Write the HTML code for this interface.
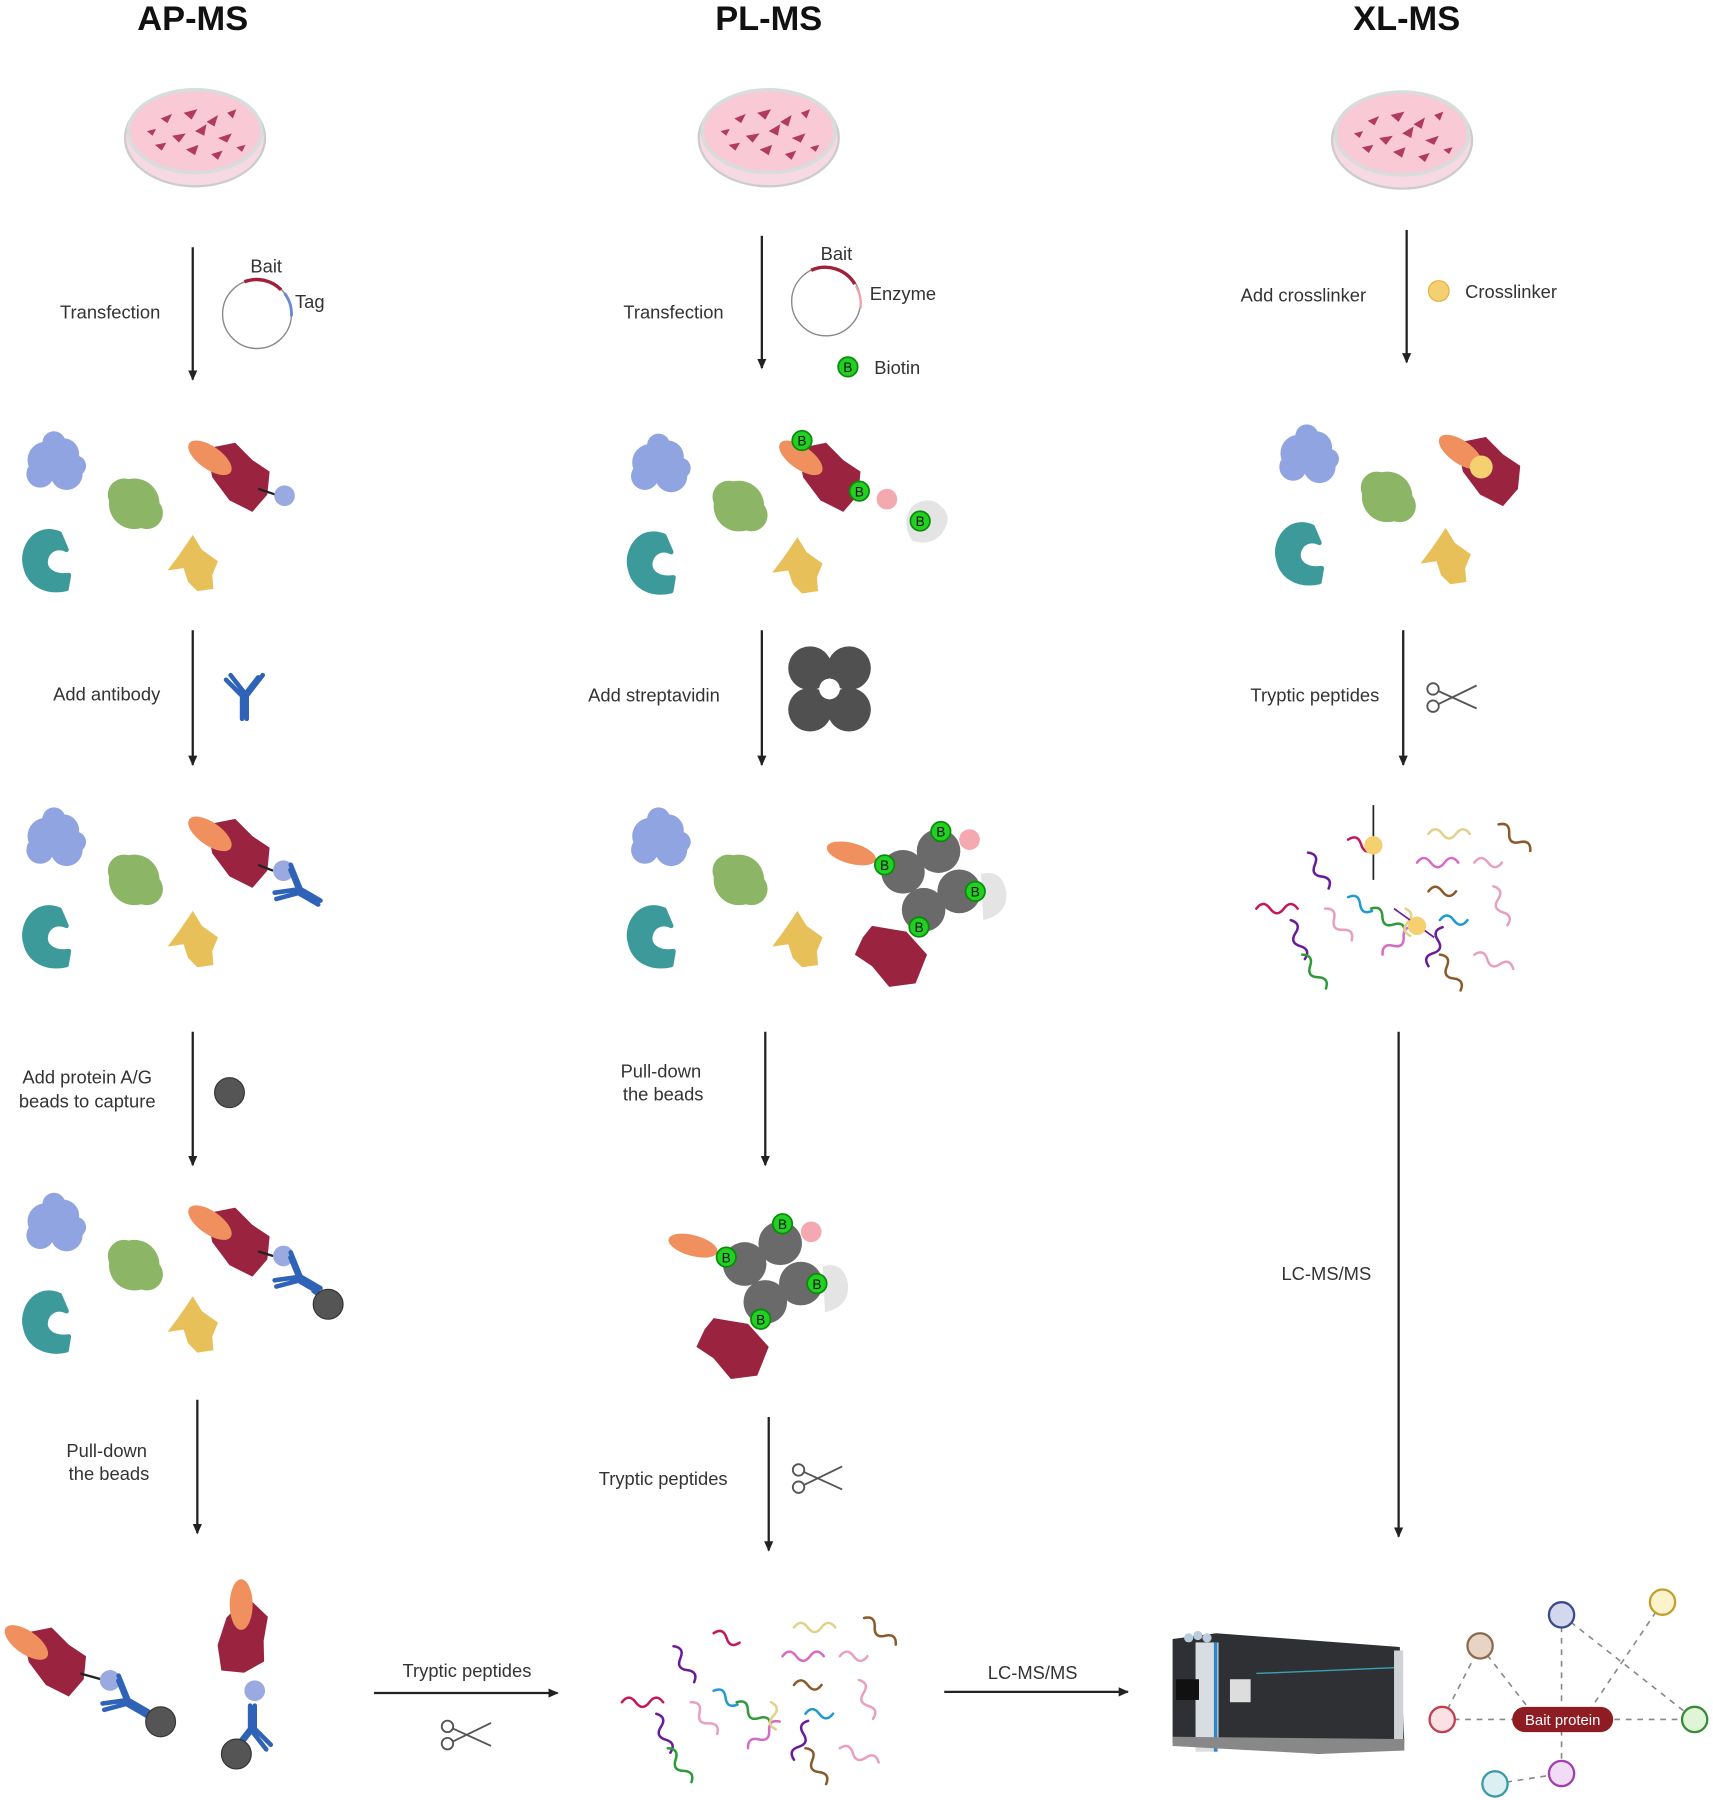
<!DOCTYPE html>
<html><head><meta charset="utf-8"><style>
html,body{margin:0;padding:0;background:#fff;}
svg{display:block;}
text{font-family:"Liberation Sans",sans-serif;fill:#333;}
</style></head><body>
<svg width="1713" height="1800" viewBox="0 0 1493 1565" preserveAspectRatio="none" xmlns="http://www.w3.org/2000/svg">
<defs>
<marker id="ah" markerWidth="10" markerHeight="10" refX="8" refY="5" orient="auto" markerUnits="userSpaceOnUse">
<path d="M0,1 L9,5 L0,9 Z" fill="#222"/></marker>
<g id="dish">
<ellipse cx="0" cy="2" rx="61" ry="42" fill="#f6d9e2" stroke="#ccc" stroke-width="2"/>
<ellipse cx="0" cy="-4" rx="58" ry="36" fill="#f9c9d6" stroke="#d7dcdc" stroke-width="3"/>
<g fill="#b03a60">
<path d="M-30,-15 l10,-4 l-4,8z"/><path d="M-10,-20 l12,-3 l-5,9z"/><path d="M10,-12 l10,-6 l-3,10z"/>
<path d="M-20,0 l12,-2 l-6,8z"/><path d="M0,-4 l10,-6 l-2,10z"/><path d="M20,2 l12,-4 l-4,8z"/>
<path d="M-35,8 l10,-2 l-4,7z"/><path d="M-8,12 l11,-4 l-3,9z"/><path d="M14,16 l10,-3 l-4,8z"/>
<path d="M28,-20 l8,-3 l-3,8z"/><path d="M-42,-4 l8,-2 l-3,6z"/><path d="M36,10 l8,-2 l-3,6z"/>
</g></g>
<g id="cluster">
<g fill="#8fa4e0"><circle cx="40" cy="400" r="16"/><circle cx="55" cy="395" r="14"/><circle cx="47" cy="385" r="10"/><circle cx="35" cy="412" r="12"/><circle cx="58" cy="412" r="14"/><circle cx="66" cy="405" r="9"/></g>
<g fill="#8cb565"><circle cx="117" cy="438" r="22"/><circle cx="108" cy="430" r="14"/><circle cx="128" cy="446" r="14"/></g>
<path d="M52,464 C30,455 18,478 22,492 C25,508 40,516 58,512 L60,500 C45,502 38,494 40,486 C42,478 50,474 58,478 Z" fill="#3d9a9a" stroke="#3d9a9a" stroke-width="4" stroke-linejoin="round"/>
<path d="M168,465 L176,478 L190,488 L185,500 L186,512 L172,514 L164,506 L160,494 L146,496 L155,484 L162,474 Z" fill="#e8c05a"/>
</g>
<g id="bait">
<path d="M-25,-20 L0,-25 L15,-10 L30,0 L28,20 L15,35 L-5,25 L-20,5 Z" fill="#9a2340"/>
<ellipse cx="-22" cy="-12" rx="22" ry="10" fill="#f0905f" transform="rotate(35 -22 -12)"/>
</g>
<g id="bio"><circle r="8.5" fill="#22d022" stroke="#0a8a0a" stroke-width="1.5"/><text x="0" y="4.5" text-anchor="middle" font-size="12" style="fill:#111">B</text></g>
<g id="ab" fill="none" stroke="#2f63b8" stroke-width="4" stroke-linecap="round">
<path d="M0,0 L0,20 M-4,0 L-4,20 M0,0 L-14,-18 M-4,0 L-18,-14 M0,0 L14,-18 M-4,2 L10,-16"/>
</g>
<g id="sc" fill="none" stroke="#555" stroke-width="1.6">
<circle cx="-16" cy="-7" r="5"/><circle cx="-16" cy="8" r="5"/><path d="M-11,-5 L22,10 M-11,6 L22,-10"/>
</g>
<g id="pep" fill="none" stroke-width="2.2" stroke-linecap="round">
<path d="M-120,10 q6,-8 12,0 t12,0 t12,0" stroke="#c2185b"/>
<path d="M-80,-30 q6,-8 12,0 t12,0 t12,0" stroke="#6a1b9a" transform="rotate(60 -70 -30)"/>
<path d="M-40,-50 q6,-8 12,0 t12,0" stroke="#c2185b" transform="rotate(20 -40 -50)"/>
<path d="M30,-55 q6,-8 12,0 t12,0 t12,0" stroke="#e0d28a"/>
<path d="M90,-60 q6,-8 12,0 t12,0 t12,0" stroke="#8b5a2b" transform="rotate(40 95 -60)"/>
<path d="M20,-30 q6,-8 12,0 t12,0 t12,0" stroke="#d46cc6"/>
<path d="M70,-30 q6,-8 12,0 t12,0" stroke="#e8a0c0"/>
<path d="M-90,20 q6,-8 12,0 t12,0 t12,0" stroke="#6a1b9a" transform="rotate(70 -90 20)"/>
<path d="M-60,10 q6,-8 12,0 t12,0 t12,0" stroke="#e8a0c0" transform="rotate(50 -60 10)"/>
<path d="M-40,0 q6,-8 12,0 t12,0" stroke="#1e9ad0" transform="rotate(30 -40 0)"/>
<path d="M-20,10 q6,-8 12,0 t12,0 t12,0" stroke="#2e9a3a" transform="rotate(35 -20 10)"/>
<path d="M-80,50 q6,-8 12,0 t12,0 t12,0" stroke="#2e9a3a" transform="rotate(55 -80 50)"/>
<path d="M-10,50 q6,-8 12,0 t12,0 t12,0" stroke="#d46cc6" transform="rotate(-40 -10 50)"/>
<path d="M10,10 q6,-8 12,0 t12,0" stroke="#e0d28a" transform="rotate(80 10 10)"/>
<path d="M40,20 q6,-8 12,0 t12,0" stroke="#1e9ad0"/>
<path d="M80,0 q6,-8 12,0 t12,0 t12,0" stroke="#e8a0c0" transform="rotate(70 90 0)"/>
<path d="M30,-5 q6,-8 12,0 t12,0" stroke="#8b5a2b"/>
<path d="M30,60 q6,-8 12,0 t12,0 t12,0" stroke="#6a1b9a" transform="rotate(-70 30 60)"/>
<path d="M40,50 q6,-8 12,0 t12,0 t12,0" stroke="#8b5a2b" transform="rotate(60 40 50)"/>
<path d="M70,50 q6,-8 12,0 t12,0 t12,0" stroke="#e8a0c0" transform="rotate(20 70 50)"/>
</g>
</defs>

<text x="168" y="26" font-size="30" font-weight="bold" text-anchor="middle" style="fill:#111">AP-MS</text>
<text x="670" y="26" font-size="30" font-weight="bold" text-anchor="middle" style="fill:#111">PL-MS</text>
<text x="1226" y="26" font-size="30" font-weight="bold" text-anchor="middle" style="fill:#111">XL-MS</text>

<use href="#dish" x="170" y="118"/><use href="#dish" x="670" y="118"/><use href="#dish" x="1222" y="120"/>

<g stroke="#222" stroke-width="2" marker-end="url(#ah)">
<line x1="168" y1="215" x2="168" y2="330"/><line x1="168" y1="548" x2="168" y2="665"/><line x1="168" y1="897" x2="168" y2="1013"/><line x1="172" y1="1217" x2="172" y2="1333"/>
<line x1="664" y1="205" x2="664" y2="320"/><line x1="664" y1="548" x2="664" y2="665"/><line x1="667" y1="897" x2="667" y2="1013"/><line x1="670" y1="1232" x2="670" y2="1348"/>
<line x1="1226" y1="200" x2="1226" y2="315"/><line x1="1223" y1="548" x2="1223" y2="665"/><line x1="1219" y1="897" x2="1219" y2="1336"/>
<line x1="326" y1="1472" x2="486" y2="1472"/><line x1="823" y1="1471" x2="983" y2="1471"/>
</g>

<g font-size="16" text-anchor="middle">
<text x="96" y="277">Transfection</text><text x="232" y="237">Bait</text><text x="270" y="268">Tag</text>
<text x="587" y="277">Transfection</text><text x="729" y="226">Bait</text><text x="787" y="261">Enzyme</text><text x="782" y="325">Biotin</text>
<text x="1136" y="262">Add crosslinker</text><text x="1317" y="259">Crosslinker</text>
<text x="93" y="609">Add antibody</text><text x="570" y="610">Add streptavidin</text><text x="1146" y="610">Tryptic peptides</text>
<text x="76" y="942">Add protein A/G</text><text x="76" y="963">beads to capture</text>
<text x="576" y="937">Pull-down</text><text x="578" y="957">the beads</text>
<text x="1156" y="1113">LC-MS/MS</text>
<text x="93" y="1267">Pull-down</text><text x="95" y="1287">the beads</text>
<text x="578" y="1291">Tryptic peptides</text><text x="407" y="1458">Tryptic peptides</text><text x="900" y="1460">LC-MS/MS</text>
</g>

<circle cx="224" cy="273" r="30" fill="none" stroke="#888" stroke-width="1.2"/>
<path d="M213,245 A30,30 0 0 1 245,252" fill="none" stroke="#a0203a" stroke-width="3"/>
<path d="M248,255 A30,30 0 0 1 254,275" fill="none" stroke="#6a8ad0" stroke-width="2.5"/>
<circle cx="720" cy="262" r="30" fill="none" stroke="#888" stroke-width="1.2"/>
<path d="M707,235 A30,30 0 0 1 745,247" fill="none" stroke="#a0203a" stroke-width="3"/>
<path d="M746,249 A30,30 0 0 1 750,268" fill="none" stroke="#f0a0a8" stroke-width="2"/>
<use href="#bio" x="739" y="319"/>
<circle cx="1254" cy="253" r="9" fill="#f5d070" stroke="#e0b040" stroke-width="1"/>

<use href="#ab" x="215" y="605"/>
<g fill="#505050"><circle cx="706" cy="581" r="19"/><circle cx="740" cy="581" r="19"/><circle cx="706" cy="617" r="19"/><circle cx="740" cy="617" r="19"/></g>
<circle cx="723" cy="599" r="9" fill="#fff"/>
<use href="#sc" x="1265" y="606"/>
<circle cx="200" cy="950" r="13" fill="#555" stroke="#333"/>
<use href="#sc" x="712" y="1285"/><use href="#sc" x="406" y="1508"/>

<!-- row clusters -->
<use href="#cluster"/><use href="#bait" x="205" y="410"/>
<line x1="225" y1="425" x2="240" y2="430" stroke="#222" stroke-width="2"/><circle cx="248" cy="431" r="9" fill="#9aaae0"/>

<use href="#cluster" x="527" y="2"/><use href="#bait" x="720" y="410"/>
<circle cx="773" cy="434" r="9" fill="#f4a8b0"/>
<path d="M795,440 q15,-10 25,0 q12,10 0,25 q-10,10 -25,5 q-10,-15 0,-30z" fill="#e4e4e4"/>
<use href="#bio" x="699" y="383"/><use href="#bio" x="749" y="427"/><use href="#bio" x="802" y="453"/>

<use href="#cluster" x="1092" y="-6"/><use href="#bait" x="1295" y="405"/>
<circle cx="1291" cy="406" r="10" fill="#f5d070"/>

<use href="#cluster" y="327"/><use href="#bait" x="205" y="737"/>
<line x1="225" y1="752" x2="238" y2="757" stroke="#222" stroke-width="2"/><circle cx="247" cy="757" r="9" fill="#9aaae0"/>
<use href="#ab" x="262" y="773" transform="rotate(-60 262 773)"/>

<use href="#cluster" y="662"/><use href="#bait" x="205" y="1075"/>
<line x1="225" y1="1088" x2="238" y2="1092" stroke="#222" stroke-width="2"/><circle cx="247" cy="1092" r="9" fill="#9aaae0"/>
<use href="#ab" x="262" y="1110" transform="rotate(-60 262 1110)"/>
<line x1="272" y1="1122" x2="280" y2="1128" stroke="#2f63b8" stroke-width="3"/>
<circle cx="286" cy="1134" r="13" fill="#555" stroke="#333"/>

<use href="#cluster" x="527" y="327"/>
<g id="strep">
<ellipse cx="742" cy="742" rx="22" ry="9" fill="#f0905f" transform="rotate(15 742 742)"/>
<path d="M760,805 L790,810 L808,830 L798,855 L775,858 L760,840 L745,830 L752,815 Z" fill="#9a2340"/>
<circle cx="845" cy="730" r="9" fill="#f4a8b0"/>
<path d="M855,760 q18,-5 22,15 q2,20 -20,25 z" fill="#e4e4e4"/>
<g fill="#6a6a6a"><circle cx="818" cy="740" r="19"/><circle cx="787" cy="758" r="19"/><circle cx="836" cy="775" r="19"/><circle cx="805" cy="791" r="19"/></g>
<use href="#bio" x="820" y="723"/><use href="#bio" x="771" y="752"/><use href="#bio" x="850" y="775"/><use href="#bio" x="801" y="806"/>
</g>
<use href="#strep" x="-138" y="341"/>

<!-- final AP -->
<use href="#bait" x="45" y="1440"/>
<line x1="70" y1="1455" x2="88" y2="1460" stroke="#222" stroke-width="2"/><circle cx="96" cy="1461" r="9" fill="#9aaae0"/>
<use href="#ab" x="112" y="1478" transform="rotate(-60 112 1478)"/>
<circle cx="140" cy="1497" r="13" fill="#555" stroke="#333"/>
<use href="#bait" x="213" y="1420" transform="rotate(55 213 1420)"/>
<circle cx="222" cy="1470" r="9" fill="#9aaae0"/>
<use href="#ab" x="218" y="1503" transform="rotate(180 218 1503)"/>
<circle cx="206" cy="1525" r="13" fill="#555" stroke="#333"/>

<use href="#pep" x="1215" y="780"/>
<line x1="1197" y1="700" x2="1197" y2="765" stroke="#222" stroke-width="1.5"/><circle cx="1197" cy="735" r="8" fill="#f5d070"/>
<line x1="1215" y1="790" x2="1250" y2="815" stroke="#6a1b9a" stroke-width="1.5"/><circle cx="1235" cy="805" r="8" fill="#f5d070"/>
<use href="#pep" x="662" y="1470"/>

<!-- mass spec -->
<g>
<path d="M1022,1425 L1060,1420 L1220,1432 L1224,1515 L1150,1525 L1022,1515 Z" fill="#2e3033"/>
<rect x="1042" y="1428" width="20" height="95" fill="#d8dde2"/><rect x="1058" y="1428" width="3" height="95" fill="#2e86c8"/>
<rect x="1025" y="1460" width="20" height="18" fill="#111"/>
<rect x="1072" y="1460" width="18" height="20" fill="#ddd"/>
<line x1="1095" y1="1455" x2="1215" y2="1450" stroke="#3aa0b8" stroke-width="1.2"/>
<rect x="1215" y="1435" width="8" height="80" fill="#cfd3d6"/>
<path d="M1022,1510 L1224,1512 L1224,1522 L1150,1525 L1022,1518Z" fill="#888"/>
<circle cx="1036" cy="1424" r="4" fill="#bcd"/><circle cx="1044" cy="1422" r="4" fill="#bcd"/><circle cx="1052" cy="1424" r="4" fill="#bcd"/>
</g>
<g stroke="#888" stroke-width="1.4" stroke-dasharray="5,5" fill="none">
<line x1="1257" y1="1495" x2="1477" y2="1495"/><line x1="1257" y1="1495" x2="1290" y2="1431"/><line x1="1290" y1="1431" x2="1340" y2="1495"/>
<line x1="1361" y1="1404" x2="1361" y2="1542"/><line x1="1361" y1="1404" x2="1477" y2="1495"/><line x1="1449" y1="1393" x2="1380" y2="1495"/>
<line x1="1303" y1="1551" x2="1361" y2="1542"/>
</g>
<g stroke-width="2">
<circle cx="1257" cy="1495" r="11" fill="#fbe0e4" stroke="#c04050"/>
<circle cx="1290" cy="1431" r="11" fill="#e8d4c4" stroke="#8a6a50"/>
<circle cx="1361" cy="1404" r="11" fill="#d4d8ee" stroke="#3a4a8a"/>
<circle cx="1449" cy="1393" r="11" fill="#fbf3cc" stroke="#c0a030"/>
<circle cx="1477" cy="1495" r="11" fill="#e0f4d8" stroke="#3a8a3a"/>
<circle cx="1361" cy="1542" r="11" fill="#f0dcf4" stroke="#a040b0"/>
<circle cx="1303" cy="1551" r="11" fill="#dcf0f4" stroke="#3a9aa8"/>
</g>
<rect x="1318" y="1484" width="88" height="22" rx="11" fill="#8e1c22"/>
<text x="1362" y="1500" font-size="13" text-anchor="middle" style="fill:#fff">Bait protein</text>
</svg>
</body></html>
